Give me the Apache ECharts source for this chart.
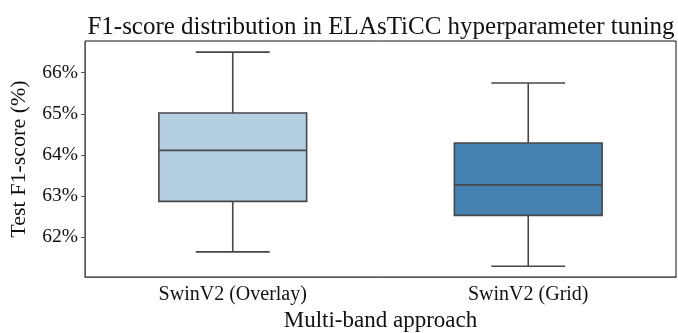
<!DOCTYPE html>
<html>
<head>
<meta charset="utf-8">
<script src="https://cdn.jsdelivr.net/npm/echarts@6/dist/echarts.min.js"></script>
<style>html,body{margin:0;padding:0;background:#fff}#c{width:678px;height:333px}</style>
</head>
<body>
<div id="c"></div>
<script>
const categories = ['SwinV2 (Overlay)', 'SwinV2 (Grid)'];
const whiskerLow = [61.64, 61.29];
const q1 = [62.87, 62.53];
const median = [64.11, 63.27];
const q3 = [65.02, 64.29];
const whiskerHigh = [66.50, 65.75];
const boxColors = ['#b4cfe2', '#4682b1'];
const yTicks = [62, 63, 64, 65, 66];

const FONT = '"Liberation Serif", "DejaVu Serif", serif';
const data = categories.map((c, i) => [i, whiskerLow[i], q1[i], median[i], q3[i], whiskerHigh[i]]);

const chart = echarts.init(document.getElementById('c'), null, {renderer: 'canvas'});
chart.setOption({
  animation: false,
  backgroundColor: '#fff',
  title: {
    text: 'F1-score distribution in ELAsTiCC hyperparameter tuning',
    left: 376, top: 10, textAlign: 'center',
    textStyle: {fontFamily: FONT, fontSize: 25, fontWeight: 'normal', color: '#111'}
  },
  grid: {left: 85, right: 2, top: 41, bottom: 56, show: true, borderColor: '#111', borderWidth: 1,
    containLabel: false, outerBoundsMode: 'none'},
  xAxis: {
    type: 'category', data: categories, boundaryGap: true,
    name: 'Multi-band approach', nameLocation: 'middle', nameGap: 30,
    nameTextStyle: {fontFamily: FONT, fontSize: 23, color: '#111'},
    axisLine: {lineStyle: {color: '#555', width: 1}},
    axisTick: {alignWithLabel: true, length: 4, lineStyle: {color: '#555'}},
    axisLabel: {fontFamily: FONT, fontSize: 20, color: '#111', margin: 8},
    splitLine: {show: false}
  },
  yAxis: {
    type: 'value', min: 61.03, max: 66.77,
    name: 'Test F1-score (%)', nameLocation: 'middle', nameGap: 55,
    nameTextStyle: {fontFamily: FONT, fontSize: 22, color: '#111'},
    axisLine: {show: true, lineStyle: {color: '#555', width: 1}},
    axisTick: {show: true, length: 4, customValues: yTicks, lineStyle: {color: '#555'}},
    axisLabel: {fontFamily: FONT, fontSize: 19.5, color: '#111', margin: 7, customValues: yTicks,
      formatter: v => v + '%'},
    splitLine: {show: false}
  },
  series: [{
    type: 'custom',
    data: data,
    encode: {x: 0, y: [1, 2, 3, 4, 5]},
    renderItem: function (params, api) {
      const i = api.value(0);
      const band = api.size([1, 0])[0];
      const bw = band * 0.5;
      const cw = bw * 0.5;
      const pLo = api.coord([i, api.value(1)]);
      const pQ1 = api.coord([i, api.value(2)]);
      const pMed = api.coord([i, api.value(3)]);
      const pQ3 = api.coord([i, api.value(4)]);
      const pHi = api.coord([i, api.value(5)]);
      const x = pMed[0];
      const line = {stroke: '#474747', lineWidth: 1.6};
      return {
        type: 'group',
        children: [
          {type: 'line', shape: {x1: x, y1: pQ3[1], x2: x, y2: pHi[1]}, style: line},
          {type: 'line', shape: {x1: x, y1: pQ1[1], x2: x, y2: pLo[1]}, style: line},
          {type: 'line', shape: {x1: x - cw / 2, y1: pHi[1], x2: x + cw / 2, y2: pHi[1]}, style: line},
          {type: 'line', shape: {x1: x - cw / 2, y1: pLo[1], x2: x + cw / 2, y2: pLo[1]}, style: line},
          {type: 'rect', shape: {x: x - bw / 2, y: pQ3[1], width: bw, height: pQ1[1] - pQ3[1]},
            style: {fill: boxColors[i], stroke: '#474747', lineWidth: 1.6}},
          {type: 'line', shape: {x1: x - bw / 2, y1: pMed[1], x2: x + bw / 2, y2: pMed[1]}, style: line}
        ]
      };
    }
  }]
});
</script>
</body>
</html>
